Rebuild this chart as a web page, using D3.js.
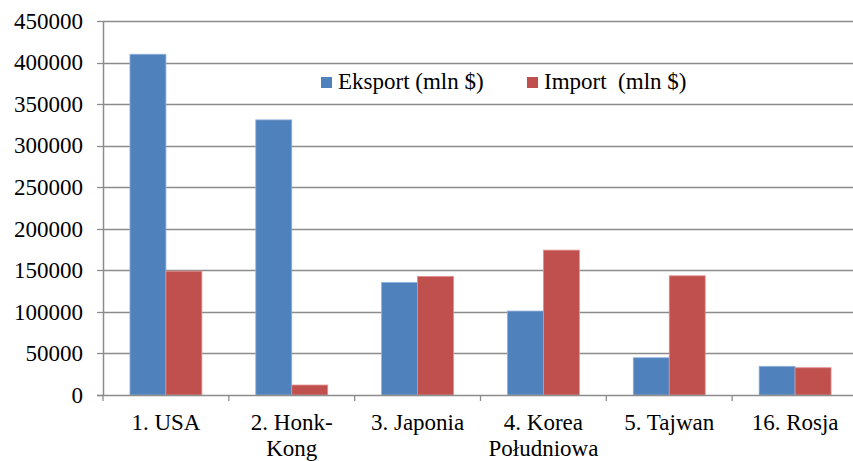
<!DOCTYPE html>
<html>
<head>
<meta charset="utf-8">
<script src="https://cdn.jsdelivr.net/npm/d3@7"></script>
<style>
  body { margin: 0; background: #fff; }
  #chart text, #chart tspan { font-family: "Liberation Serif", "Times New Roman", Tinos !important; font-size: 23px; }
</style>
</head>
<body>
<div id="chart"></div>
<script>
// data
const categories = ["1. USA", "2. Honk-\nKong", "3. Japonia", "4. Korea\nPołudniowa", "5. Tajwan", "16. Rosja"];
const eksport = [410000, 331000, 135500, 101000, 44800, 34500];
const imports = [149000, 12000, 142700, 174300, 143400, 32800];
const seriesNames = ["Eksport (mln $)", "Import  (mln $)"];
const yTicks = [0, 50000, 100000, 150000, 200000, 250000, 300000, 350000, 400000, 450000];

const W = 853, H = 461;
const margin = {top: 21, right: -5, bottom: 66, left: 103},
    width = W - margin.left - margin.right,
    height = H - margin.top - margin.bottom;

const blue = "#4f81bd", red = "#c0504d", grid = "#8c8c8c";

const svg = d3.select("#chart")
    .append("svg")
    .attr("width", W)
    .attr("height", H);

const g = svg.append("g")
    .attr("transform", `translate(${margin.left},${margin.top})`);

const x = d3.scaleBand()
    .domain(categories)
    .range([0, width]);

const xInner = d3.scaleBand()
    .domain([0, 1])
    .range([0, x.bandwidth()])
    .paddingOuter(0.75)
    .paddingInner(0);

const y = d3.scaleLinear([0, 450000], [height, 0]);

// gridlines
g.selectAll(".grid")
    .data(yTicks.filter(d => d > 0))
    .enter()
    .append("line")
    .attr("class", "grid")
    .attr("x1", 0)
    .attr("x2", W - margin.left)
    .attr("y1", d => Math.round(y(d)) + 0.5)
    .attr("y2", d => Math.round(y(d)) + 0.5)
    .attr("stroke", grid)
    .attr("stroke-width", 1.3);

// bars
const rows = categories.map((c, i) => ({cat: c, vals: [eksport[i], imports[i]]}));
const groups = g.selectAll(".cat")
    .data(rows)
    .enter()
    .append("g")
    .attr("transform", d => `translate(${x(d.cat)},0)`);

groups.selectAll("rect")
    .data(d => d.vals.map((v, k) => ({k, v})))
    .enter()
    .append("rect")
    .attr("x", d => xInner(d.k))
    .attr("width", xInner.bandwidth())
    .attr("y", d => y(d.v))
    .attr("height", d => height - y(d.v))
    .attr("fill", d => d.k === 0 ? blue : red)
    .attr("stroke", d => d.k === 0 ? "#8fb0db" : "#e0908e")
    .attr("stroke-width", 0.8);

// y axis
const yAxis = g.append("g");
yAxis.append("line")
    .attr("x1", 0.5).attr("x2", 0.5)
    .attr("y1", 0).attr("y2", height)
    .attr("stroke", grid).attr("stroke-width", 1.5);
yAxis.selectAll(".yt")
    .data(yTicks)
    .enter()
    .append("line")
    .attr("x1", -6).attr("x2", 0)
    .attr("y1", d => Math.round(y(d)) + 0.5)
    .attr("y2", d => Math.round(y(d)) + 0.5)
    .attr("stroke", grid).attr("stroke-width", 1.3);
yAxis.selectAll(".yl")
    .data(yTicks)
    .enter()
    .append("text")
    .attr("x", -20)
    .attr("y", d => y(d))
    .attr("dy", "0.34em")
    .attr("text-anchor", "end")
    .attr("fill", "#000")
    .text(d3.format("d"));

// x axis line and ticks
const xAxis = g.append("g").attr("transform", `translate(0,${height})`);
xAxis.append("line")
    .attr("x1", -6).attr("x2", W - margin.left)
    .attr("y1", 0.5).attr("y2", 0.5)
    .attr("stroke", grid).attr("stroke-width", 1.5);
xAxis.selectAll(".xt")
    .data(categories)
    .enter()
    .append("line")
    .attr("x1", d => x(d)).attr("x2", d => x(d))
    .attr("y1", 0).attr("y2", 6)
    .attr("stroke", grid).attr("stroke-width", 1.3);

const labels = xAxis.selectAll(".xl")
    .data(categories)
    .enter()
    .append("text")
    .attr("text-anchor", "middle")
    .attr("fill", "#000");
labels.selectAll("tspan")
    .data(d => d.split("\n").map(t => ({t, c: d})))
    .enter()
    .append("tspan")
    .attr("x", d => x(d.c) + x.bandwidth() / 2)
    .attr("y", (d, i) => 35 + i * 26)
    .text(d => d.t);

// legend
const legend = svg.append("g").attr("transform", "translate(321,77)");
const legendX = [0, 206];
seriesNames.forEach((name, i) => {
    legend.append("rect")
        .attr("x", legendX[i]).attr("y", 0)
        .attr("width", 11).attr("height", 11)
        .attr("fill", i === 0 ? blue : red);
    legend.append("text")
        .attr("x", legendX[i] + 17).attr("y", 12)
        .attr("fill", "#000")
        .style("white-space", "pre")
        .text(name);
});
</script>
</body>
</html>
